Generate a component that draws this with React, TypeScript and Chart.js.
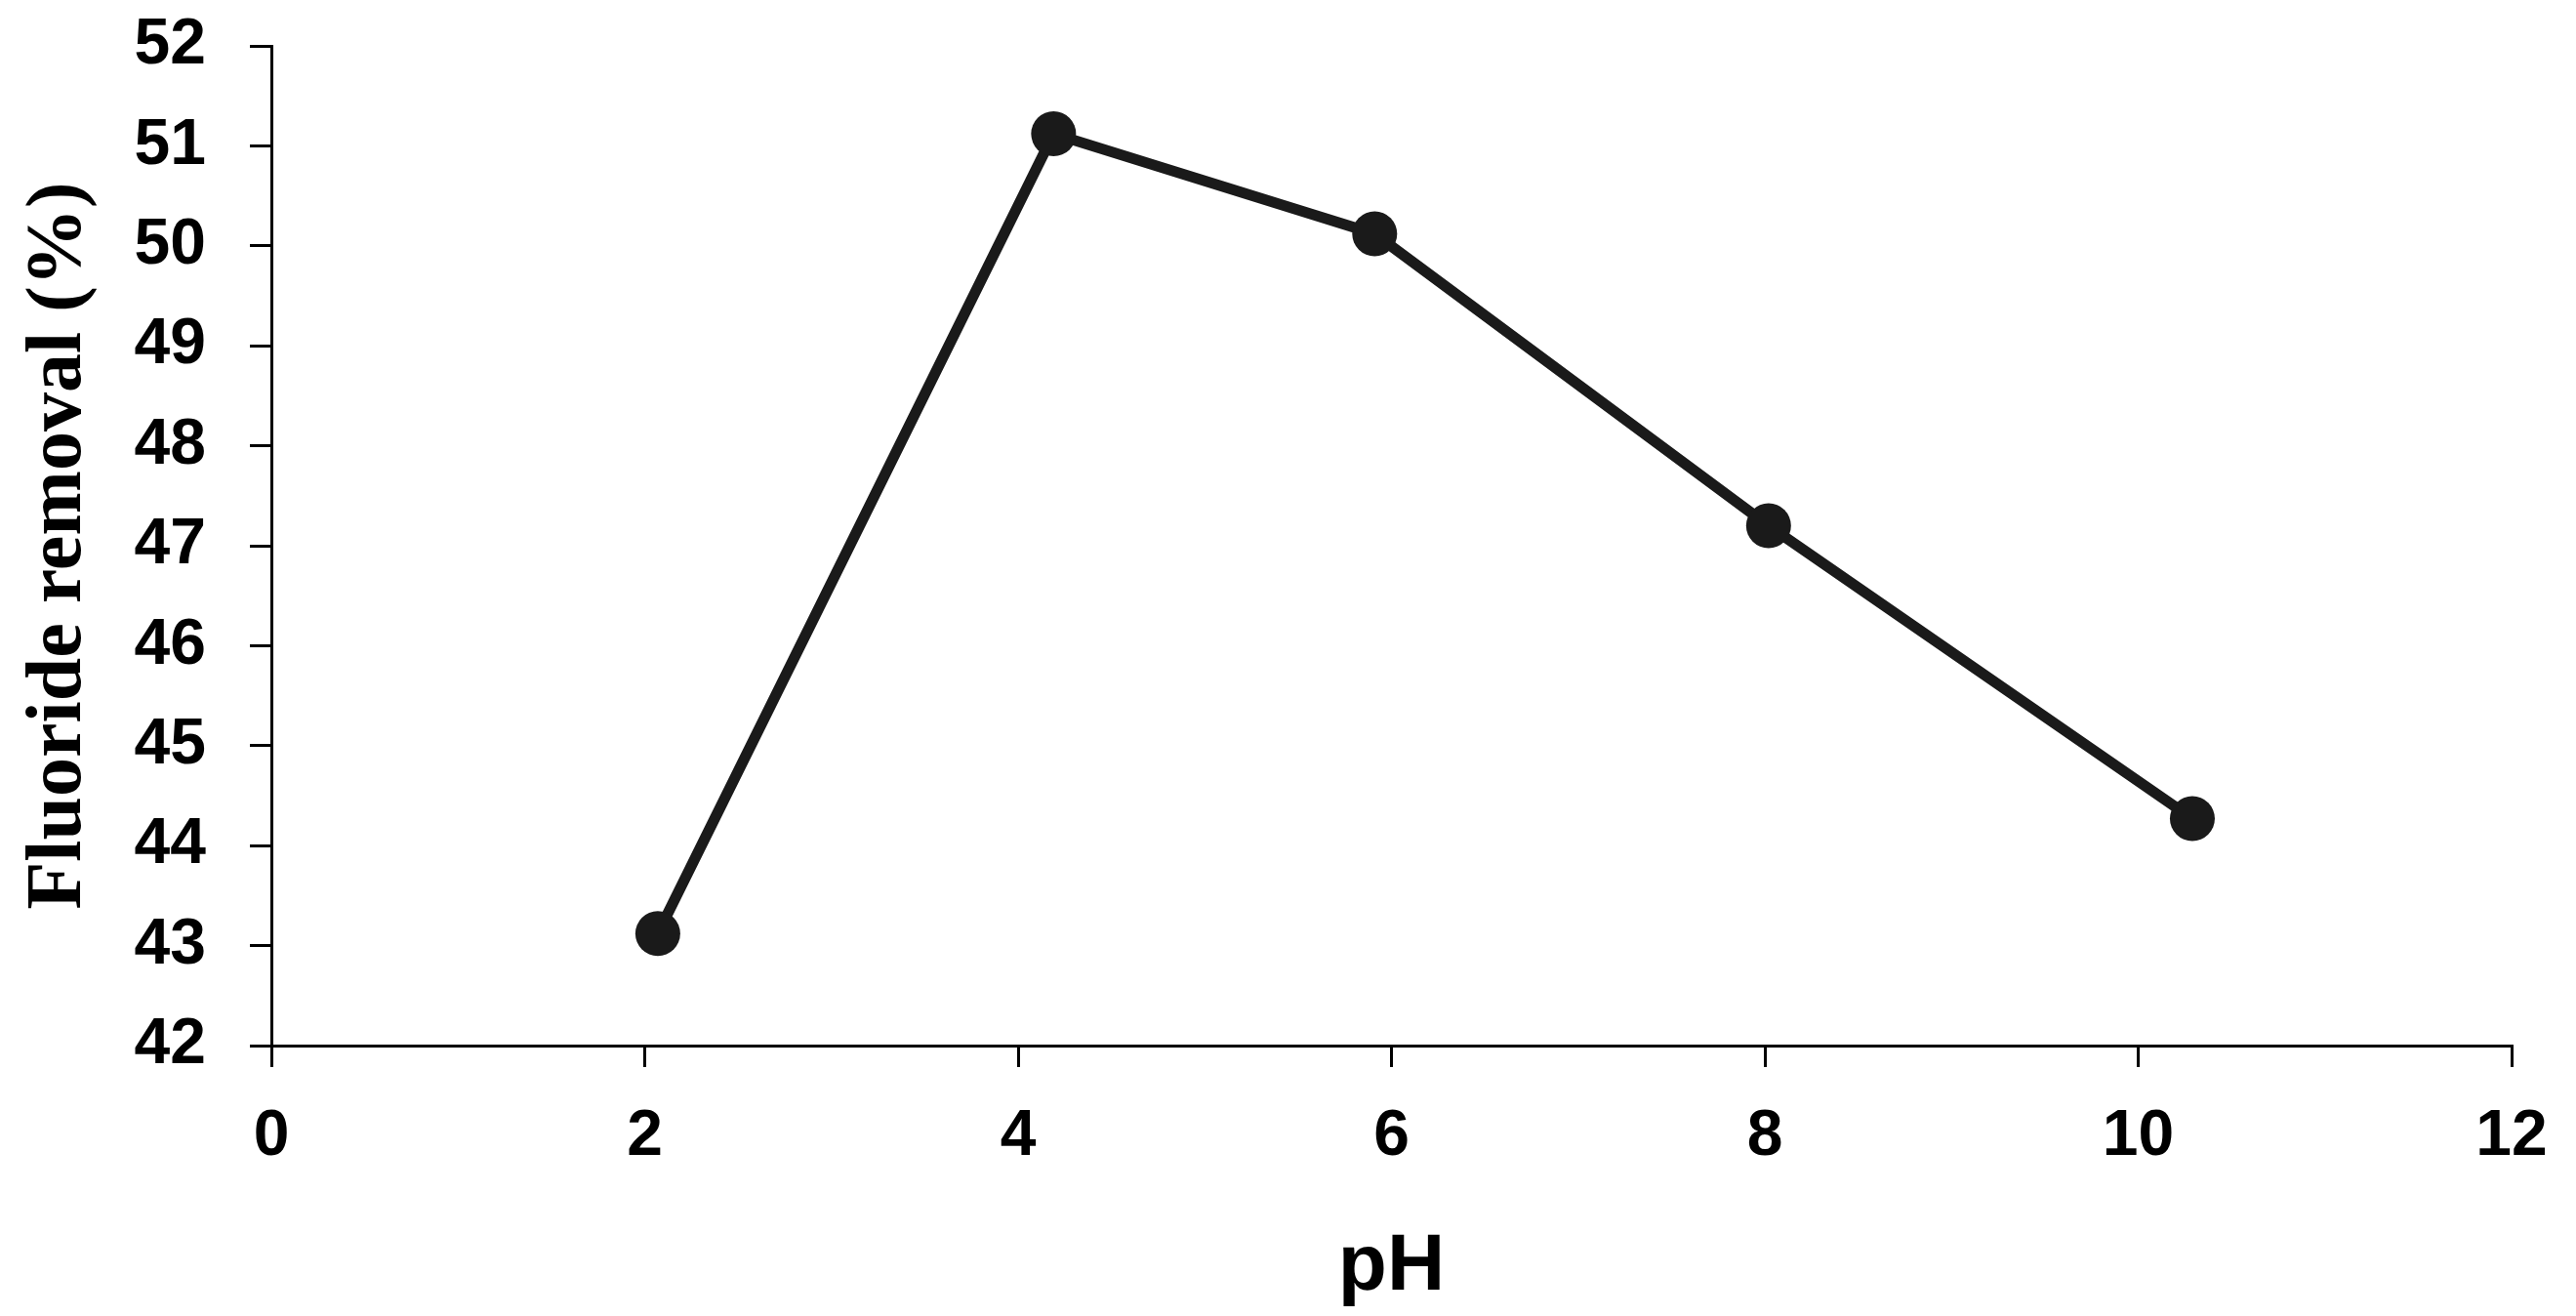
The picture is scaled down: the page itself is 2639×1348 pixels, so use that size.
import { useEffect, useRef } from "react";
import { Chart, registerables } from "chart.js";

Chart.register(...registerables);

const phValues = [2.07, 4.19, 5.91, 8.02, 10.29];
const removalValues = [43.12, 51.12, 50.12, 47.2, 44.27];
const xTickValues = [0, 2, 4, 6, 8, 10, 12];
const yTickValues = [42, 43, 44, 45, 46, 47, 48, 49, 50, 51, 52];
const xTitle = "pH";
const yTitle = "Fluoride removal (%)";

export default function App() {
  const ref = useRef<HTMLCanvasElement>(null);
  useEffect(() => {
    const tickFont = { family: "Liberation Sans", weight: "bold" as const, size: 66 };
    const chart = new Chart(ref.current!, {
      type: "scatter",
      data: {
        datasets: [
          {
            data: phValues.map((x, i) => ({ x, y: removalValues[i] })),
            showLine: true,
            borderColor: "#1a1a1a",
            backgroundColor: "#1a1a1a",
            borderWidth: 11,
            pointRadius: 23,
            pointBackgroundColor: "#1a1a1a",
            pointBorderWidth: 0,
          },
        ],
      },
      options: {
        responsive: false,
        maintainAspectRatio: false,
        animation: false,
        layout: { padding: { top: 47, right: 66, left: 0, bottom: 0 } },
        plugins: { legend: { display: false }, tooltip: { enabled: false } },
        scales: {
          x: {
            type: "linear",
            min: 0,
            max: 12,
            afterBuildTicks: (s: any) => {
              s.ticks = xTickValues.map((v) => ({ value: v }));
            },
            afterFit: (s: any) => {
              s.height = 277;
              s.paddingLeft = 0;
              s.paddingRight = 0;
            },
            grid: { drawOnChartArea: false, drawTicks: true, tickLength: 22, color: "#000", lineWidth: 3 },
            border: { color: "#000", width: 3 },
            ticks: { font: tickFont, color: "#000", padding: 32, maxRotation: 0 },
            title: {
              display: true,
              text: xTitle,
              color: "#000",
              font: { family: "Liberation Sans", weight: "bold", size: 82, lineHeight: 1 },
              padding: { top: 0, bottom: 9 },
            },
          },
          y: {
            type: "linear",
            min: 42,
            max: 52,
            afterBuildTicks: (s: any) => {
              s.ticks = yTickValues.map((v) => ({ value: v }));
            },
            afterFit: (s: any) => {
              s.width = 278;
              s.paddingTop = 0;
              s.paddingBottom = 0;
            },
            grid: { drawOnChartArea: false, drawTicks: true, tickLength: 22, color: "#000", lineWidth: 3 },
            border: { color: "#000", width: 3 },
            ticks: { font: tickFont, color: "#000", padding: 45 },
            title: {
              display: true,
              text: yTitle,
              color: "#000",
              font: { family: "Liberation Serif", weight: "bold", size: 80, lineHeight: 1 },
              padding: { top: 21, bottom: 0 },
            },
          },
        },
      },
    });
    return () => chart.destroy();
  }, []);
  return (
    <div style={{ position: "absolute", left: 0, top: 0, width: 2639, height: 1348, background: "#fff" }}>
      <canvas ref={ref} width={2639} height={1348} style={{ width: 2639, height: 1348, display: "block" }} />
    </div>
  );
}
